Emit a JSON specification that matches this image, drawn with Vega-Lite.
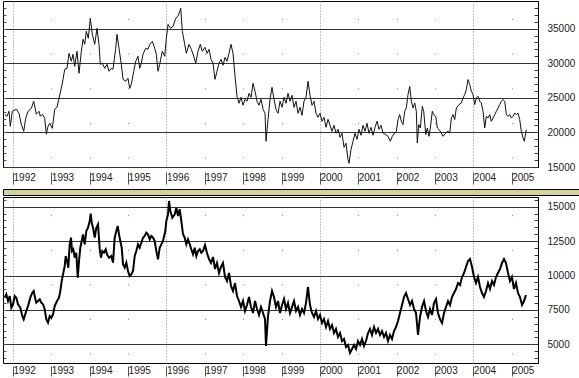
{
"$schema": "https://vega.github.io/schema/vega-lite/v6.json",
"padding": 0,
"background": "white",
"spacing": 0,
"config": {
  "view": {"stroke": "#000", "strokeWidth": 1},
  "axis": {"labelFont": "Liberation Sans", "labelFontSize": 10, "labelColor": "#222", "title": null, "labelFlush": false, "labelOverlap": false, "labelBound": false}
},
"datasets": {
"top": [
{"t":1991.784,"v":22600},{"t":1991.844,"v":22330},{"t":1991.896,"v":23050},{"t":1991.930,"v":20880},{"t":1991.982,"v":23050},{"t":1992.086,"v":23340},{"t":1992.156,"v":22760},{"t":1992.216,"v":21170},{"t":1992.279,"v":20160},{"t":1992.331,"v":22040},{"t":1992.391,"v":23050},{"t":1992.477,"v":23480},{"t":1992.540,"v":24500},{"t":1992.607,"v":22620},{"t":1992.678,"v":23050},{"t":1992.712,"v":22330},{"t":1992.764,"v":22620},{"t":1992.826,"v":22040},{"t":1992.868,"v":19730},{"t":1992.912,"v":20880},{"t":1992.957,"v":21320},{"t":1993.025,"v":20590},{"t":1993.087,"v":23340},{"t":1993.147,"v":23630},{"t":1993.199,"v":24930},{"t":1993.259,"v":26370},{"t":1993.304,"v":27670},{"t":1993.348,"v":29120},{"t":1993.408,"v":29260},{"t":1993.460,"v":31430},{"t":1993.520,"v":30280},{"t":1993.564,"v":31290},{"t":1993.609,"v":29550},{"t":1993.668,"v":31720},{"t":1993.721,"v":28540},{"t":1993.781,"v":31720},{"t":1993.825,"v":33450},{"t":1993.869,"v":32730},{"t":1993.911,"v":34610},{"t":1993.963,"v":33600},{"t":1994.015,"v":36490},{"t":1994.067,"v":34180},{"t":1994.130,"v":32730},{"t":1994.190,"v":35040},{"t":1994.242,"v":32730},{"t":1994.276,"v":29840},{"t":1994.328,"v":29990},{"t":1994.391,"v":29260},{"t":1994.451,"v":29840},{"t":1994.503,"v":28830},{"t":1994.563,"v":29260},{"t":1994.607,"v":29120},{"t":1994.677,"v":32150},{"t":1994.711,"v":34180},{"t":1994.763,"v":32150},{"t":1994.823,"v":29840},{"t":1994.868,"v":27670},{"t":1994.938,"v":27390},{"t":1994.998,"v":27820},{"t":1995.042,"v":26370},{"t":1995.084,"v":26950},{"t":1995.147,"v":28830},{"t":1995.199,"v":30280},{"t":1995.259,"v":31000},{"t":1995.303,"v":29260},{"t":1995.345,"v":29990},{"t":1995.389,"v":31290},{"t":1995.459,"v":32150},{"t":1995.519,"v":32010},{"t":1995.564,"v":32730},{"t":1995.632,"v":33170},{"t":1995.694,"v":32150},{"t":1995.736,"v":31290},{"t":1995.780,"v":28830},{"t":1995.824,"v":29840},{"t":1995.892,"v":31720},{"t":1995.955,"v":31000},{"t":1995.997,"v":33600},{"t":1996.041,"v":35620},{"t":1996.101,"v":35040},{"t":1996.171,"v":35330},{"t":1996.242,"v":36490},{"t":1996.301,"v":36780},{"t":1996.346,"v":37500},{"t":1996.372,"v":37930},{"t":1996.414,"v":34610},{"t":1996.476,"v":32730},{"t":1996.518,"v":31430},{"t":1996.588,"v":32730},{"t":1996.648,"v":32010},{"t":1996.711,"v":31000},{"t":1996.763,"v":29990},{"t":1996.823,"v":31720},{"t":1996.883,"v":32730},{"t":1996.935,"v":31720},
{"t":1997.005,"v":32300},{"t":1997.058,"v":31430},{"t":1997.110,"v":32010},{"t":1997.162,"v":30560},{"t":1997.214,"v":29990},{"t":1997.266,"v":27670},{"t":1997.318,"v":28830},{"t":1997.370,"v":29990},{"t":1997.423,"v":30560},{"t":1997.475,"v":29700},{"t":1997.527,"v":30850},{"t":1997.579,"v":30280},{"t":1997.631,"v":31430},{"t":1997.683,"v":32730},{"t":1997.735,"v":31430},{"t":1997.788,"v":28110},{"t":1997.840,"v":25220},{"t":1997.892,"v":24210},{"t":1997.944,"v":25070},{"t":1997.996,"v":23920},{"t":1998.048,"v":24780},{"t":1998.100,"v":24500},{"t":1998.153,"v":25650},{"t":1998.205,"v":25070},{"t":1998.257,"v":27100},{"t":1998.309,"v":25940},{"t":1998.361,"v":24500},{"t":1998.413,"v":23920},{"t":1998.465,"v":24780},{"t":1998.518,"v":23340},{"t":1998.570,"v":22760},{"t":1998.596,"v":18720},{"t":1998.648,"v":21890},{"t":1998.700,"v":24780},{"t":1998.752,"v":26520},{"t":1998.804,"v":24780},{"t":1998.856,"v":23340},{"t":1998.909,"v":22760},{"t":1998.961,"v":24500},{"t":1999.013,"v":23630},{"t":1999.065,"v":25070},{"t":1999.117,"v":24210},{"t":1999.169,"v":25650},{"t":1999.221,"v":24500},{"t":1999.274,"v":25360},{"t":1999.326,"v":23630},{"t":1999.378,"v":24500},{"t":1999.430,"v":22760},{"t":1999.482,"v":23630},{"t":1999.534,"v":22470},{"t":1999.586,"v":24500},{"t":1999.639,"v":25070},{"t":1999.691,"v":27385},{"t":1999.743,"v":25360},{"t":1999.795,"v":23920},{"t":1999.847,"v":24500},{"t":1999.899,"v":22760},{"t":1999.951,"v":22180},{"t":2000.003,"v":22760},{"t":2000.056,"v":21610},{"t":2000.108,"v":22180},{"t":2000.160,"v":20740},{"t":2000.212,"v":21890},{"t":2000.264,"v":21030},{"t":2000.316,"v":20160},{"t":2000.368,"v":21030},{"t":2000.421,"v":19870},{"t":2000.473,"v":20450},{"t":2000.525,"v":19290},{"t":2000.577,"v":19870},{"t":2000.629,"v":17850},{"t":2000.681,"v":18430},{"t":2000.733,"v":16100},{"t":2000.760,"v":15540},{"t":2000.812,"v":17560},{"t":2000.864,"v":18720},{"t":2000.916,"v":19870},{"t":2000.968,"v":19000},{"t":2001.020,"v":20450},{"t":2001.072,"v":19580},{"t":2001.125,"v":21030},{"t":2001.177,"v":20160},{"t":2001.229,"v":21320},{"t":2001.281,"v":19870},{"t":2001.333,"v":20740},{"t":2001.385,"v":19580},{"t":2001.437,"v":20740},{"t":2001.490,"v":21610},{"t":2001.542,"v":20450},{"t":2001.594,"v":21030},
{"t":2001.646,"v":19920},{"t":2001.716,"v":19680},{"t":2001.776,"v":19440},{"t":2001.836,"v":18720},{"t":2001.888,"v":19440},{"t":2001.951,"v":19920},{"t":2001.993,"v":20160},{"t":2002.037,"v":21850},{"t":2002.081,"v":22570},{"t":2002.123,"v":21610},{"t":2002.167,"v":21130},{"t":2002.211,"v":23050},{"t":2002.253,"v":23530},{"t":2002.298,"v":25460},{"t":2002.342,"v":26660},{"t":2002.384,"v":24500},{"t":2002.428,"v":23530},{"t":2002.472,"v":24250},{"t":2002.514,"v":23050},{"t":2002.540,"v":18470},{"t":2002.577,"v":21130},{"t":2002.618,"v":20640},{"t":2002.670,"v":23770},{"t":2002.707,"v":23050},{"t":2002.759,"v":19680},{"t":2002.801,"v":20640},{"t":2002.845,"v":19440},{"t":2002.879,"v":20640},{"t":2002.931,"v":23050},{"t":2002.968,"v":22570},{"t":2003.020,"v":22330},{"t":2003.062,"v":20640},{"t":2003.106,"v":20410},{"t":2003.166,"v":19920},{"t":2003.210,"v":19440},{"t":2003.280,"v":19920},{"t":2003.340,"v":20160},{"t":2003.385,"v":19920},{"t":2003.427,"v":22080},{"t":2003.471,"v":22570},{"t":2003.515,"v":21850},{"t":2003.557,"v":23530},{"t":2003.627,"v":24020},{"t":2003.687,"v":24250},{"t":2003.731,"v":24970},{"t":2003.776,"v":25460},{"t":2003.817,"v":26190},{"t":2003.862,"v":27630},{"t":2003.906,"v":26910},{"t":2003.948,"v":25940},{"t":2003.992,"v":25460},{"t":2004.036,"v":24020},{"t":2004.078,"v":24970},{"t":2004.123,"v":25220},{"t":2004.167,"v":24500},{"t":2004.209,"v":24250},{"t":2004.253,"v":23050},{"t":2004.297,"v":20640},{"t":2004.339,"v":22330},{"t":2004.383,"v":22080},{"t":2004.428,"v":22570},{"t":2004.469,"v":21610},{"t":2004.514,"v":22080},{"t":2004.558,"v":22570},{"t":2004.600,"v":23050},{"t":2004.644,"v":23530},{"t":2004.688,"v":24020},{"t":2004.730,"v":24500},{"t":2004.774,"v":24740},{"t":2004.818,"v":24500},{"t":2004.860,"v":22570},{"t":2004.905,"v":22330},{"t":2004.949,"v":22570},{"t":2004.991,"v":22080},{"t":2005.035,"v":22330},{"t":2005.079,"v":22810},{"t":2005.121,"v":22570},{"t":2005.165,"v":22810},{"t":2005.209,"v":21850},{"t":2005.251,"v":20160},{"t":2005.296,"v":19190},{"t":2005.329,"v":18720},{"t":2005.366,"v":19920},{"t":2005.382,"v":20410}
],
"bottom": [
{"t":1991.784,"v":8388},{"t":1991.825,"v":8634},{"t":1991.870,"v":8147},{"t":1991.914,"v":8510},{"t":1991.956,"v":7660},{"t":1992.000,"v":7907},{"t":1992.044,"v":8510},{"t":1992.086,"v":8388},{"t":1992.130,"v":7907},{"t":1992.190,"v":7660},{"t":1992.242,"v":7057},{"t":1992.279,"v":6817},{"t":1992.331,"v":7297},{"t":1992.391,"v":7784},{"t":1992.451,"v":8388},{"t":1992.503,"v":8750},{"t":1992.540,"v":8874},{"t":1992.574,"v":8388},{"t":1992.607,"v":8024},{"t":1992.652,"v":8147},{"t":1992.696,"v":8270},{"t":1992.738,"v":8024},{"t":1992.782,"v":7907},{"t":1992.826,"v":7544},{"t":1992.868,"v":6817},{"t":1992.912,"v":6570},{"t":1992.957,"v":7057},{"t":1992.998,"v":6934},{"t":1993.043,"v":7180},{"t":1993.087,"v":7784},{"t":1993.147,"v":8147},{"t":1993.199,"v":8388},{"t":1993.233,"v":8874},{"t":1993.270,"v":9600},{"t":1993.304,"v":10085},{"t":1993.348,"v":10694},{"t":1993.374,"v":11418},{"t":1993.408,"v":11056},{"t":1993.442,"v":10567},{"t":1993.478,"v":12266},{"t":1993.512,"v":12748},{"t":1993.538,"v":11780},{"t":1993.572,"v":11904},{"t":1993.609,"v":11294},{"t":1993.650,"v":11658},{"t":1993.687,"v":9838},{"t":1993.721,"v":11056},{"t":1993.755,"v":12020},{"t":1993.791,"v":12507},{"t":1993.825,"v":12993},{"t":1993.869,"v":12266},{"t":1993.911,"v":13233},{"t":1993.955,"v":13474},{"t":1994.000,"v":13961},{"t":1994.026,"v":14491},{"t":1994.052,"v":13837},{"t":1994.086,"v":13474},{"t":1994.130,"v":12748},{"t":1994.172,"v":13474},{"t":1994.216,"v":13721},{"t":1994.260,"v":11904},{"t":1994.294,"v":11294},{"t":1994.328,"v":11780},{"t":1994.372,"v":11658},{"t":1994.417,"v":11904},{"t":1994.451,"v":11541},{"t":1994.503,"v":11294},{"t":1994.563,"v":11418},{"t":1994.607,"v":10930},{"t":1994.651,"v":12748},{"t":1994.693,"v":13233},{"t":1994.730,"v":13597},{"t":1994.763,"v":12993},{"t":1994.797,"v":12507},{"t":1994.834,"v":12020},{"t":1994.868,"v":10813},{"t":1994.912,"v":10567},{"t":1994.954,"v":10930},{"t":1994.998,"v":10327},{"t":1995.042,"v":9963},{"t":1995.084,"v":10085},{"t":1995.128,"v":10327},{"t":1995.173,"v":11418},{"t":1995.214,"v":11780},{"t":1995.259,"v":12266},{"t":1995.303,"v":12020},{"t":1995.345,"v":12384},{"t":1995.389,"v":12748},{"t":1995.433,"v":12872},{"t":1995.475,"v":13111},{"t":1995.519,"v":12993},{"t":1995.564,"v":12631},{"t":1995.605,"v":12872},{"t":1995.650,"v":12748},{"t":1995.694,"v":12507},{"t":1995.736,"v":11780},{"t":1995.780,"v":11177},{"t":1995.824,"v":12020},{"t":1995.866,"v":12266},{"t":1995.910,"v":12507},{"t":1995.970,"v":13233},{"t":1995.997,"v":13961},{"t":1996.041,"v":14448},{"t":1996.067,"v":15414},{"t":1996.101,"v":14687},{"t":1996.153,"v":14200},{"t":1996.215,"v":14448},{"t":1996.257,"v":14927},{"t":1996.301,"v":14324},{"t":1996.346,"v":14811},{"t":1996.388,"v":13961},{"t":1996.432,"v":12993},{"t":1996.476,"v":12748},{"t":1996.518,"v":12266},{"t":1996.562,"v":12631},{"t":1996.607,"v":12266},{"t":1996.648,"v":11904},{"t":1996.693,"v":11541},{"t":1996.737,"v":12020},{"t":1996.779,"v":11418},{"t":1996.823,"v":11780},{"t":1996.867,"v":11904},{"t":1996.909,"v":11658},
{"t":1996.953,"v":11780},{"t":1997.005,"v":12217},{"t":1997.057,"v":11635},{"t":1997.110,"v":11199},{"t":1997.162,"v":10908},{"t":1997.214,"v":11344},{"t":1997.266,"v":10472},{"t":1997.318,"v":10908},{"t":1997.370,"v":10182},{"t":1997.422,"v":10618},{"t":1997.474,"v":10908},{"t":1997.527,"v":9891},{"t":1997.579,"v":9600},{"t":1997.631,"v":10182},{"t":1997.683,"v":9237},{"t":1997.735,"v":8874},{"t":1997.787,"v":9455},{"t":1997.839,"v":8510},{"t":1997.892,"v":8147},{"t":1997.944,"v":7711},{"t":1997.996,"v":8147},{"t":1998.048,"v":7420},{"t":1998.100,"v":7856},{"t":1998.152,"v":8438},{"t":1998.204,"v":7711},{"t":1998.257,"v":7275},{"t":1998.309,"v":8147},{"t":1998.361,"v":7565},{"t":1998.413,"v":7130},{"t":1998.465,"v":7711},{"t":1998.517,"v":7275},{"t":1998.569,"v":6839},{"t":1998.595,"v":4877},{"t":1998.648,"v":7057},{"t":1998.700,"v":8147},{"t":1998.752,"v":8874},{"t":1998.804,"v":8438},{"t":1998.856,"v":7711},{"t":1998.908,"v":8147},{"t":1998.960,"v":7275},{"t":1999.013,"v":7856},{"t":1999.065,"v":8292},{"t":1999.117,"v":7565},{"t":1999.169,"v":8002},{"t":1999.221,"v":7275},{"t":1999.273,"v":7711},{"t":1999.325,"v":8147},{"t":1999.378,"v":7420},{"t":1999.430,"v":7711},{"t":1999.482,"v":7130},{"t":1999.534,"v":7565},{"t":1999.586,"v":7275},{"t":1999.638,"v":8002},{"t":1999.690,"v":9165},{"t":1999.742,"v":7856},{"t":1999.795,"v":7275},{"t":1999.847,"v":6984},{"t":1999.899,"v":7420},{"t":1999.951,"v":6839},{"t":2000.003,"v":7130},{"t":2000.055,"v":6548},{"t":2000.107,"v":6839},{"t":2000.160,"v":6258},{"t":2000.212,"v":6694},{"t":2000.264,"v":6113},{"t":2000.316,"v":6403},{"t":2000.368,"v":5822},{"t":2000.420,"v":6113},{"t":2000.472,"v":5531},{"t":2000.525,"v":5822},{"t":2000.577,"v":5240},{"t":2000.629,"v":5386},{"t":2000.681,"v":4804},{"t":2000.733,"v":4949},{"t":2000.785,"v":4368},{"t":2000.837,"v":4659},{"t":2000.890,"v":4949},{"t":2000.942,"v":4659},{"t":2000.994,"v":5240},{"t":2001.046,"v":4949},{"t":2001.098,"v":5386},{"t":2001.150,"v":4877},{"t":2001.202,"v":5240},{"t":2001.255,"v":5822},{"t":2001.307,"v":6113},{"t":2001.359,"v":5677},{"t":2001.411,"v":6258},{"t":2001.463,"v":5822},{"t":2001.515,"v":6113},{"t":2001.567,"v":5677},{"t":2001.620,"v":5967},{"t":2001.672,"v":5531},{"t":2001.724,"v":5822},{"t":2001.776,"v":5240},{"t":2001.828,"v":5677},{"t":2001.880,"v":5386},{"t":2001.932,"v":5967},{"t":2001.984,"v":6258},{"t":2002.037,"v":6694},{"t":2002.089,"v":7275},{"t":2002.141,"v":7856},{"t":2002.193,"v":8438},{"t":2002.245,"v":8728},{"t":2002.297,"v":8292},{"t":2002.350,"v":7856},{"t":2002.402,"v":8147},{"t":2002.454,"v":7565},{"t":2002.506,"v":7275},{"t":2002.558,"v":5677},{"t":2002.610,"v":6984},{"t":2002.662,"v":7711},{"t":2002.715,"v":8147},{"t":2002.767,"v":7420},{"t":2002.819,"v":6984},{"t":2002.871,"v":7565},{"t":2002.923,"v":7130},{"t":2002.975,"v":8002},{"t":2003.027,"v":8292},{"t":2003.079,"v":7275},{"t":2003.131,"v":6839},{"t":2003.184,"v":6548},{"t":2003.236,"v":7275},{"t":2003.288,"v":7711},{"t":2003.340,"v":8147},{"t":2003.392,"v":7856},{"t":2003.444,"v":8438},{"t":2003.496,"v":8728},{"t":2003.549,"v":9019},{"t":2003.601,"v":9455},{"t":2003.653,"v":9310},{"t":2003.705,"v":9891},{"t":2003.757,"v":10182},{"t":2003.809,"v":10618},{"t":2003.861,"v":11054},{"t":2003.913,"v":11199},{"t":2003.966,"v":10618},{"t":2004.018,"v":9891},{"t":2004.070,"v":9455},{"t":2004.122,"v":9891},{"t":2004.174,"v":9165},{"t":2004.226,"v":8728},{"t":2004.278,"v":8438},{"t":2004.331,"v":8874},{"t":2004.383,"v":9455},{"t":2004.435,"v":9019},{"t":2004.487,"v":9600},{"t":2004.539,"v":9310},{"t":2004.591,"v":9891},{"t":2004.643,"v":10182},{"t":2004.696,"v":10472},{"t":2004.748,"v":10908},{"t":2004.800,"v":11199},{"t":2004.852,"v":10908},{"t":2004.904,"v":10182},{"t":2004.956,"v":9600},{"t":2005.008,"v":9891},{"t":2005.060,"v":9019},{"t":2005.112,"v":9455},{"t":2005.164,"v":8728},{"t":2005.216,"v":8438},{"t":2005.269,"v":7856},{"t":2005.321,"v":8147},{"t":2005.373,"v":8583}
]
},
"vconcat": [
{
  "width": 535, "height": 166,
  "data": {"name": "top"},
  "resolve": {"axis": {"x": "independent", "y": "independent"}},
  "layer": [
    {"mark": {"type": "line", "strokeOpacity": 0},
     "encoding": {
       "x": {"field": "t", "type": "quantitative", "scale": {"domain": [1991.739, 2005.686], "nice": false, "zero": false},
             "axis": {"orient": "bottom", "values": [1992,1996,2000,2004], "labels": false, "ticks": false, "domain": false, "grid": true, "gridDash": [1,2], "gridColor": "#888", "gridWidth": 1, "minExtent": 0, "maxExtent": 0}},
       "y": {"field": "v", "type": "quantitative", "scale": {"domain": [15000, 38990], "nice": false, "zero": false},
             "axis": {"orient": "right", "values": [16000,17000,18000,19000,21000,22000,23000,24000,26000,27000,28000,29000,31000,32000,33000,34000,36000,37000,38000], "labels": false, "domain": false, "grid": false, "ticks": true, "tickSize": -4, "tickColor": "#333", "minExtent": 0, "maxExtent": 0}}
     }},
    {"mark": {"type": "line", "strokeOpacity": 0},
     "encoding": {
       "x": {"field": "t", "type": "quantitative",
             "axis": {"orient": "bottom", "values": [1993,1994,1995,1997,1998,1999,2001,2002,2003,2005], "labels": false, "ticks": false, "domain": false, "grid": true, "gridDash": [1,33.6], "gridDashOffset": 17, "gridColor": "#888", "minExtent": 0, "maxExtent": 0}},
       "y": {"field": "v", "type": "quantitative",
             "axis": {"orient": "right", "offset": 42, "labels": false, "ticks": false, "grid": false, "domain": true, "domainColor": "#000", "minExtent": 0, "maxExtent": 0}}
     }},
    {"mark": {"type": "line", "strokeOpacity": 0},
     "encoding": {
       "x": {"field": "t", "type": "quantitative", "axis": null},
       "y": {"field": "v", "type": "quantitative",
             "axis": {"orient": "left", "values": [16000,17000,18000,19000,20000,21000,22000,23000,24000,25000,26000,27000,28000,29000,30000,31000,32000,33000,34000,35000,36000,37000,38000], "labels": false, "domain": false, "grid": false, "ticks": true, "tickSize": -3, "tickColor": "#555", "minExtent": 0, "maxExtent": 0}}
     }},
    {"mark": {"type": "line", "color": "#111", "strokeWidth": 1},
     "encoding": {
       "x": {"field": "t", "type": "quantitative",
             "axis": {"orient": "bottom", "values": [1992,1993,1994,1995,1996,1997,1998,1999,2000,2001,2002,2003,2004,2005], "format": "d", "labelAlign": "left", "labelBaseline": "middle", "labelDx": 1, "offset": 5, "tickSize": 12, "labelPadding": -6.3, "tickColor": "#555", "domain": false, "grid": false, "minExtent": 15, "maxExtent": 15}},
       "y": {"field": "v", "type": "quantitative",
             "axis": {"orient": "right", "values": [15000,20000,25000,30000,35000], "format": "d", "grid": true, "gridColor": "#333", "gridWidth": 1, "ticks": false, "domain": true, "domainColor": "#000", "labelPadding": 9, "labelAlign": "left", "labelBaseline": "middle", "minExtent": 40, "maxExtent": 40}}
     }}
  ]
},
{
  "width": 577, "height": 6,
  "data": {"values": [{"t": 0}]},
  "view": {"fill": "#d5d2a0", "stroke": "#000"},
  "mark": {"type": "rect", "opacity": 0, "strokeWidth": 0},
  "encoding": {}
},
{
  "width": 535, "height": 166,
  "data": {"name": "bottom"},
  "resolve": {"axis": {"x": "independent", "y": "independent"}},
  "layer": [
    {"mark": {"type": "line", "strokeOpacity": 0},
     "encoding": {
       "x": {"field": "t", "type": "quantitative", "scale": {"domain": [1991.739, 2005.686], "nice": false, "zero": false},
             "axis": {"orient": "bottom", "values": [1992,1996,2000,2004], "labels": false, "ticks": false, "domain": false, "grid": true, "gridDash": [1,2], "gridColor": "#888", "gridWidth": 1, "minExtent": 0, "maxExtent": 0}},
       "y": {"field": "v", "type": "quantitative", "scale": {"domain": [3641, 15705], "nice": false, "zero": false},
             "axis": {"orient": "right", "values": [4000,4500,5500,6000,6500,7000,8000,8500,9000,9500,10500,11000,11500,12000,13000,13500,14000,14500,15500], "labels": false, "domain": false, "grid": false, "ticks": true, "tickSize": -4, "tickColor": "#333", "minExtent": 0, "maxExtent": 0}}
     }},
    {"mark": {"type": "line", "strokeOpacity": 0},
     "encoding": {
       "x": {"field": "t", "type": "quantitative",
             "axis": {"orient": "bottom", "values": [1993,1994,1995,1997,1998,1999,2001,2002,2003,2005], "labels": false, "ticks": false, "domain": false, "grid": true, "gridDash": [1,33.6], "gridDashOffset": 17, "gridColor": "#888", "minExtent": 0, "maxExtent": 0}},
       "y": {"field": "v", "type": "quantitative",
             "axis": {"orient": "right", "offset": 42, "labels": false, "ticks": false, "grid": false, "domain": true, "domainColor": "#000", "minExtent": 0, "maxExtent": 0}}
     }},
    {"mark": {"type": "line", "strokeOpacity": 0},
     "encoding": {
       "x": {"field": "t", "type": "quantitative", "axis": null},
       "y": {"field": "v", "type": "quantitative",
             "axis": {"orient": "left", "values": [4000,4500,5000,5500,6000,6500,7000,7500,8000,8500,9000,9500,10000,10500,11000,11500,12000,12500,13000,13500,14000,14500,15000,15500], "labels": false, "domain": false, "grid": false, "ticks": true, "tickSize": -3, "tickColor": "#555", "minExtent": 0, "maxExtent": 0}}
     }},
    {"mark": {"type": "line", "color": "#000", "strokeWidth": 2},
     "encoding": {
       "x": {"field": "t", "type": "quantitative",
             "axis": {"orient": "bottom", "values": [1992,1993,1994,1995,1996,1997,1998,1999,2000,2001,2002,2003,2004,2005], "format": "d", "labelAlign": "left", "labelBaseline": "middle", "labelDx": 1, "offset": 3, "tickSize": 10, "labelPadding": -5.5, "tickColor": "#555", "domain": false, "grid": false, "minExtent": 11, "maxExtent": 11}},
       "y": {"field": "v", "type": "quantitative",
             "axis": {"orient": "right", "values": [5000,7500,10000,12500,15000], "format": "d", "grid": true, "gridColor": "#333", "gridWidth": 1, "ticks": false, "domain": true, "domainColor": "#000", "labelPadding": 9, "labelAlign": "left", "labelBaseline": "middle", "minExtent": 40, "maxExtent": 40}}
     }}
  ]
}
]
}
